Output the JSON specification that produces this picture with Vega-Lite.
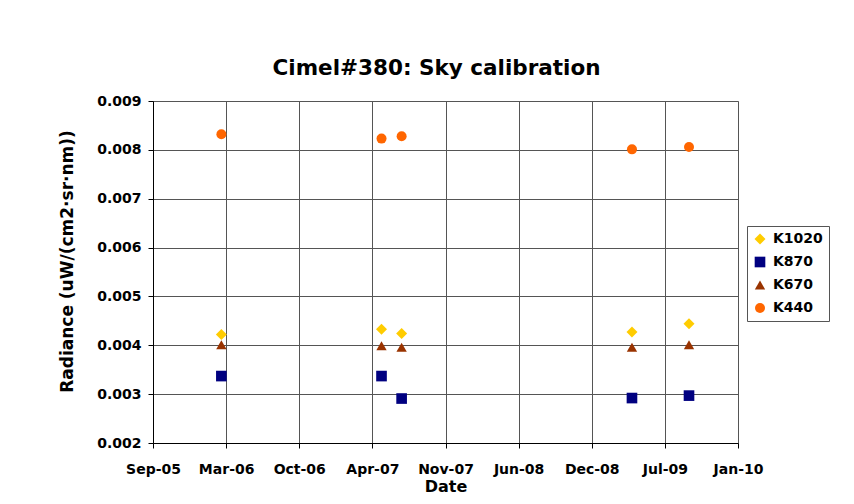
{
  "$schema": "https://vega.github.io/schema/vega-lite/v6.json",
  "width": 585,
  "height": 342,
  "autosize": {"type": "none"},
  "padding": {"left": 153, "top": 101, "right": 116, "bottom": 61},
  "background": "#ffffff",
  "title": {
    "text": "Cimel#380: Sky calibration",
    "font": "DejaVu Sans",
    "fontSize": 21.5,
    "fontWeight": "bold",
    "color": "#000000",
    "anchor": "middle",
    "frame": "group",
    "baseline": "alphabetic",
    "offset": -2,
    "dx": -9
  },
  "data": {
    "values": [
      {"date": "2006-03-11T00:00:00", "series": "K1020", "value": 0.00422},
      {"date": "2007-05-23T00:00:00", "series": "K1020", "value": 0.00433},
      {"date": "2007-07-17T00:00:00", "series": "K1020", "value": 0.00424},
      {"date": "2009-04-07T00:00:00", "series": "K1020", "value": 0.00427},
      {"date": "2009-09-10T00:00:00", "series": "K1020", "value": 0.00444},
      {"date": "2006-03-11T00:00:00", "series": "K870", "value": 0.00337},
      {"date": "2007-05-23T00:00:00", "series": "K870", "value": 0.00337},
      {"date": "2007-07-17T00:00:00", "series": "K870", "value": 0.00291},
      {"date": "2009-04-07T00:00:00", "series": "K870", "value": 0.00292},
      {"date": "2009-09-10T00:00:00", "series": "K870", "value": 0.00297},
      {"date": "2006-03-11T00:00:00", "series": "K670", "value": 0.00401},
      {"date": "2007-05-23T00:00:00", "series": "K670", "value": 0.00399},
      {"date": "2007-07-17T00:00:00", "series": "K670", "value": 0.00396},
      {"date": "2009-04-07T00:00:00", "series": "K670", "value": 0.00396},
      {"date": "2009-09-10T00:00:00", "series": "K670", "value": 0.00401},
      {"date": "2006-03-11T00:00:00", "series": "K440", "value": 0.00832},
      {"date": "2007-05-23T00:00:00", "series": "K440", "value": 0.00823},
      {"date": "2007-07-17T00:00:00", "series": "K440", "value": 0.00828},
      {"date": "2009-04-07T00:00:00", "series": "K440", "value": 0.00801},
      {"date": "2009-09-10T00:00:00", "series": "K440", "value": 0.00806}
    ]
  },
  "mark": {"type": "point", "filled": true, "opacity": 1, "strokeWidth": 0},
  "encoding": {
    "x": {
      "field": "date",
      "type": "temporal",
      "title": "Date",
      "scale": {
        "domain": [
          {"year": 2005, "month": 9, "date": 5},
          {"year": 2010, "month": 1, "date": 22}
        ],
        "nice": false
      },
      "axis": {
        "values": [
          {"year": 2005, "month": 9, "date": 5},
          {"year": 2006, "month": 3, "date": 24},
          {"year": 2006, "month": 10, "date": 10},
          {"year": 2007, "month": 4, "date": 28},
          {"year": 2007, "month": 11, "date": 14},
          {"year": 2008, "month": 6, "date": 1},
          {"year": 2008, "month": 12, "date": 18},
          {"year": 2009, "month": 7, "date": 6},
          {"year": 2010, "month": 1, "date": 22}
        ],
        "format": "%b-%y",
        "labelPadding": 14,
        "titlePadding": 2,
        "labelOverlap": false,
        "labelFlush": false
      }
    },
    "y": {
      "field": "value",
      "type": "quantitative",
      "title": "Radiance (uW/(cm2·sr·nm))",
      "scale": {"domain": [0.002, 0.009], "nice": false, "zero": false},
      "axis": {
        "values": [0.002, 0.003, 0.004, 0.005, 0.006, 0.007, 0.008, 0.009],
        "format": ".3f",
        "labelPadding": 7,
        "titlePadding": 20,
        "titleFontSize": 17,
        "titleY": 160,
        "labelOverlap": false,
        "labelFlush": false
      }
    },
    "color": {
      "field": "series",
      "type": "nominal",
      "sort": ["K1020", "K870", "K670", "K440"],
      "scale": {
        "domain": ["K1020", "K870", "K670", "K440"],
        "range": ["#FFCC00", "#000080", "#993300", "#FF6600"]
      },
      "legend": {
        "title": null,
        "orient": "none",
        "legendX": 594,
        "legendY": 125
      }
    },
    "shape": {
      "field": "series",
      "type": "nominal",
      "sort": ["K1020", "K870", "K670", "K440"],
      "scale": {
        "domain": ["K1020", "K870", "K670", "K440"],
        "range": ["diamond", "square", "triangle-up", "circle"]
      },
      "legend": {
        "title": null,
        "orient": "none",
        "legendX": 594,
        "legendY": 125
      }
    },
    "size": {
      "field": "series",
      "type": "nominal",
      "scale": {
        "domain": ["K1020", "K870", "K670", "K440"],
        "range": [120, 100, 125, 80]
      },
      "legend": null
    }
  },
  "config": {
    "view": {"stroke": "#c0c0c0", "strokeWidth": 1, "fill": "#ffffff"},
    "axis": {
      "labelFont": "DejaVu Sans",
      "labelFontSize": 14,
      "labelFontWeight": "bold",
      "labelColor": "#000000",
      "titleFont": "DejaVu Sans",
      "titleFontSize": 16,
      "titleFontWeight": "bold",
      "titleColor": "#000000",
      "domainColor": "#000000",
      "domainWidth": 1,
      "tickColor": "#000000",
      "tickSize": 5,
      "tickWidth": 1,
      "grid": true,
      "gridColor": "#555555",
      "gridWidth": 1,
      "gridOpacity": 1
    },
    "legend": {
      "labelFont": "DejaVu Sans",
      "labelFontSize": 14,
      "labelFontWeight": "bold",
      "labelColor": "#000000",
      "fillColor": "#ffffff",
      "strokeColor": "#555555",
      "strokeWidth": 1,
      "padding": 6,
      "symbolSize": 60,
      "symbolStrokeWidth": 0,
      "symbolOpacity": 1,
      "labelOffset": 6,
      "rowPadding": 9,
      "cornerRadius": 0
    }
  }
}
